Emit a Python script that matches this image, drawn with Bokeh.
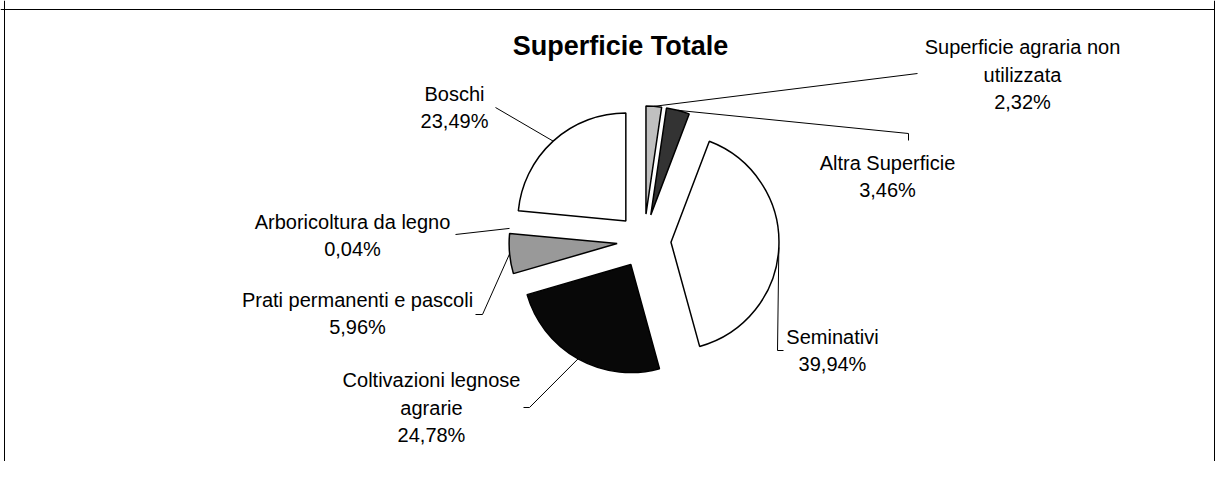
import math
from bokeh.plotting import figure
from bokeh.models import ColumnDataSource, Range1d, Span
from bokeh.core.properties import value
from bokeh.embed import file_html
from bokeh.resources import INLINE

# ---- data ----
categories = ["Superficie agraria non\nutilizzata", "Altra Superficie", "Seminativi",
              "Coltivazioni legnose\nagrarie", "Prati permanenti e pascoli",
              "Arboricoltura da legno", "Boschi"]
percent = [2.32, 3.46, 39.94, 24.78, 5.96, 0.04, 23.49]
colors = ["#C0C0C0", "#333333", "#FFFFFF", "#080808", "#999999", "#FFFFFF", "#FFFFFF"]
outlines = ["black", "black", "black", "black", "black", None, "black"]
title_text = "Superficie Totale"

# ---- layout (pixels of the reference picture) ----
W, H = 1215, 461
def dx(X):
    return X
def dy(Y):
    return H - Y

CX, CY = 643.5, 240.5      # pie centre
R = 108                     # radius
EXPLODE = 27                # explosion distance

# label block centres and leader anchor points
label_pos = [(1022, 74), (887, 176), (832, 350), (431, 407), (357, 313), (352, 235), (454, 107)]
leader_anchor = [[(917, 73)], [(908, 133), (908, 140)], [(777, 350), (783, 350)],
                 [(529, 407), (523, 407)], [(482, 314), (475, 314)], [(455, 234)], [(495, 107)]]

total = sum(percent)
cum = 0.0
xs, ys, starts, ends, lxs, lys = [], [], [], [], [], []
for v, anchors in zip(percent, leader_anchor):
    f0 = cum / total
    cum += v
    f1 = cum / total
    tm = 2 * math.pi * (f0 + f1) / 2
    ux, uy = math.sin(tm), math.cos(tm)
    xs.append(dx(CX) + EXPLODE * ux)
    ys.append(dy(CY) + EXPLODE * uy)
    starts.append(math.pi / 2 - 2 * math.pi * f0)
    ends.append(math.pi / 2 - 2 * math.pi * f1)
    px = dx(CX) + (EXPLODE + R) * ux
    py = dy(CY) + (EXPLODE + R) * uy
    lxs.append([px] + [dx(a[0]) for a in anchors])
    lys.append([py] + [dy(a[1]) for a in anchors])

labels = [f"{c}\n{v:.2f}".replace(".", ",") + "%" for c, v in zip(categories, percent)]

src = ColumnDataSource(dict(x=xs, y=ys, start=starts, end=ends, color=colors, lc=outlines))
lsrc = ColumnDataSource(dict(xs=lxs, ys=lys))
tsrc = ColumnDataSource(dict(x=[dx(p[0]) for p in label_pos], y=[dy(p[1]) for p in label_pos], text=labels))

p = figure(width=W, height=H, x_range=Range1d(0, W), y_range=Range1d(0, H),
           output_backend="svg", toolbar_location=None, min_border=0)
p.axis.visible = False
p.grid.visible = False
p.outline_line_color = None
p.background_fill_color = "white"

p.multi_line(xs="xs", ys="ys", source=lsrc, line_color="black", line_width=1)
p.wedge(x="x", y="y", radius=R, start_angle="start", end_angle="end", direction="clock",
        fill_color="color", line_color="lc", line_width=1.5, source=src)

p.text(x="x", y="y", text="text", source=tsrc, text_align="center", text_baseline="middle",
       text_font=value("Liberation Sans"), text_font_size="20px", text_color="black",
       text_line_height=1.25)

p.text(x=[dx(620)], y=[dy(45)], text=[title_text], text_align="center", text_baseline="middle",
       text_font=value("Liberation Sans"), text_font_size="27px", text_font_style="bold",
       text_color="black")

# chart border (top, left, right)
p.add_layout(Span(location=dy(9), dimension="width", line_color="black", line_width=1))
p.add_layout(Span(location=dx(4), dimension="height", line_color="black", line_width=1))
p.add_layout(Span(location=W - 1, dimension="height", line_color="black", line_width=1))

open("out.html", "w").write(file_html(p, INLINE))
